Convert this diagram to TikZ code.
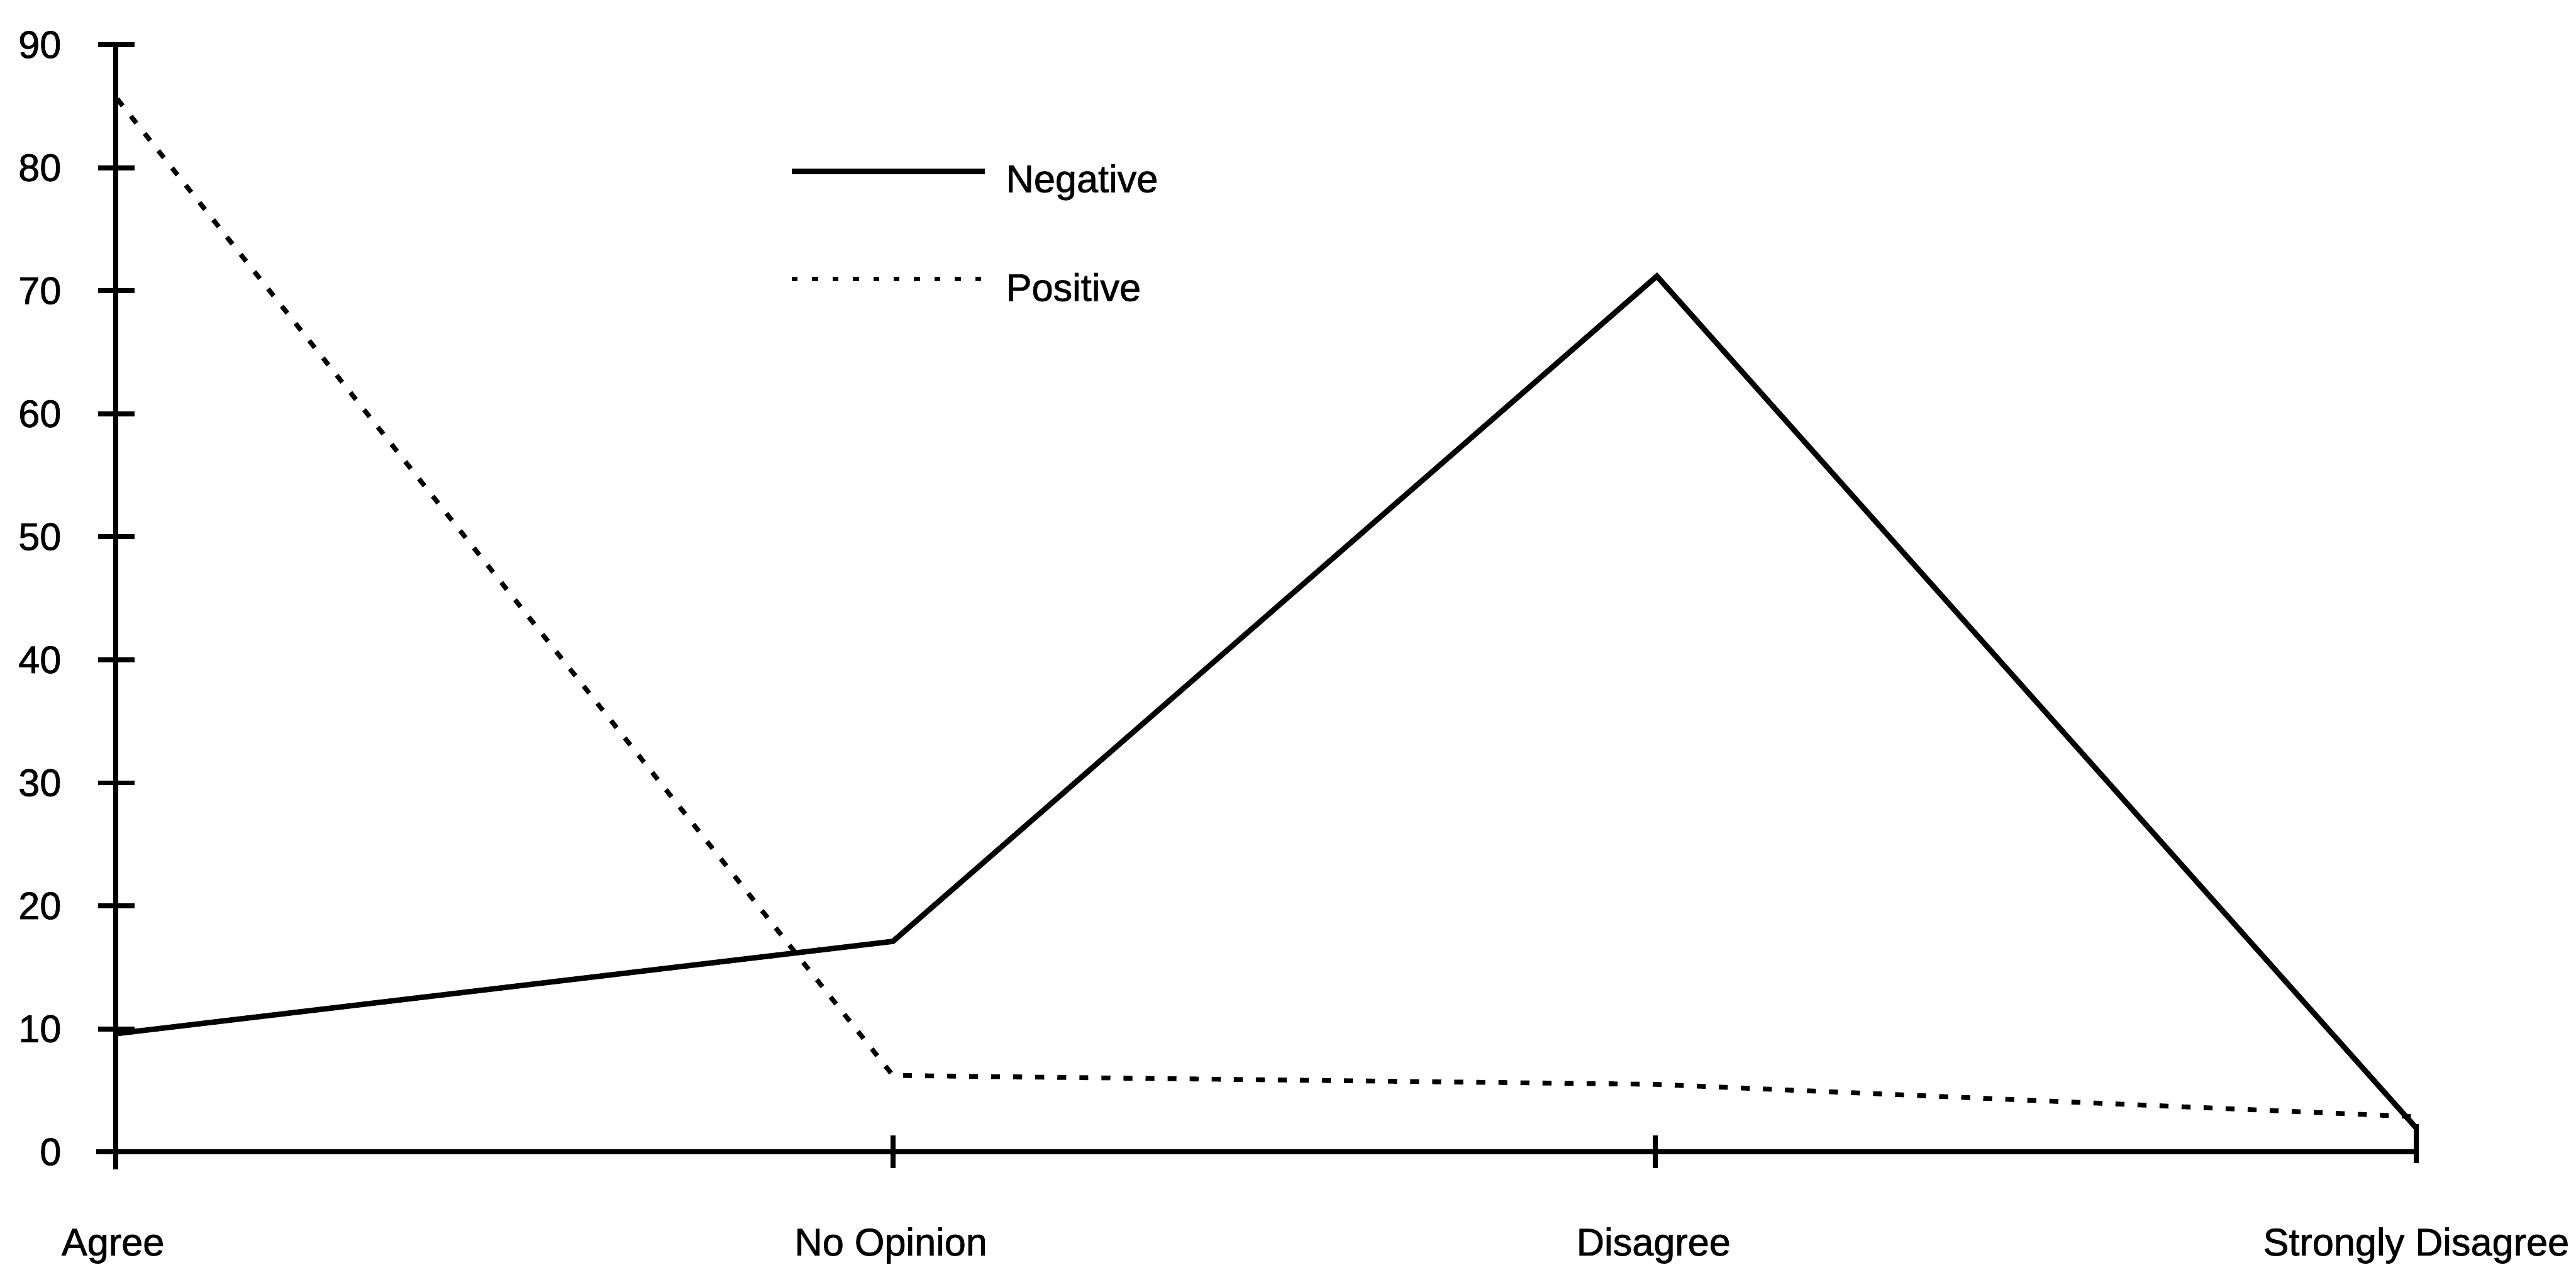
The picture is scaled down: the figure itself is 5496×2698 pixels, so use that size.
\documentclass[tikz,border=0pt]{standalone}
\usepackage{fontspec}
\setmainfont{Liberation Sans}[BoldFont=Liberation Sans,BoldFeatures={FakeBold=1.2}]
\begin{document}
\begin{tikzpicture}[x=0.005cm,y=0.005cm,
  axisline/.style={line width=1.6pt,line cap=butt},
  tickline/.style={line width=1.5pt},
  negline/.style={line width=1.65pt,line join=miter},
  posline/.style={line width=1.45pt,dash pattern=on 2.7pt off 4.0pt},
  ylab/.style={anchor=east,inner sep=0pt,font=\bfseries\fontsize{11.7}{14}\selectfont},
  xlab/.style={anchor=base,inner sep=0pt,font=\bfseries\fontsize{11.7}{14}\selectfont},
  leglab/.style={anchor=base west,inner sep=0pt,font=\bfseries\fontsize{11.7}{14}\selectfont}]
\useasboundingbox (0,0) rectangle (5496,2698);
% axes
\coordinate (o) at (247,241);
\coordinate (ytop) at (247,2603);
\coordinate (ybot) at (247,203);
\coordinate (xleft) at (205,241);
\coordinate (xright) at (5155,241);
\draw[axisline] (ybot) -- (ytop);
\draw[axisline] (xleft) -- (xright);
% y ticks and labels
\foreach \v in {0,10,...,90}{
  \pgfmathsetmacro{\yy}{241+26.24*\v}
  \draw[tickline] (209,\yy) -- (287,\yy);
  \node[ylab] (yl\v) at (132,\yy) {\v};
}
% x ticks
\coordinate (tA) at (247,241);
\coordinate (tN) at (1905,241);
\coordinate (tD) at (3532,241);
\coordinate (tS) at (5155,241);
\draw[tickline] (1905,206) -- (1905,276);
\draw[tickline] (3532,206) -- (3532,276);
\draw[tickline] (5155,217) -- (5155,300);
% x labels
\node[xlab] (lA) at (241,20) {Agree};
\node[xlab] (lN) at (1901,20) {No Opinion};
\node[xlab] (lD) at (3528,20) {Disagree};
\node[xlab] (lS) at (5155,20) {Strongly Disagree};
% data
\coordinate (nA) at (247,493);
\coordinate (nN) at (1905,690);
\coordinate (nD) at (3535,2109);
\coordinate (nS) at (5155,292);
\coordinate (pA) at (250,2487);
\coordinate (pN) at (1905,404);
\coordinate (pD) at (3532,385);
\coordinate (pS) at (5155,316);
\draw[negline] (nA) -- (nN) -- (nD) -- (nS);
\draw[posline] (pA) -- (pN) -- (pD) -- (pS);
% legend
\coordinate (l1a) at (1689,2332);
\coordinate (l1b) at (2101,2332);
\coordinate (l2a) at (1689,2103);
\coordinate (l2b) at (2095,2103);
\draw[negline] (l1a) -- (l1b);
\draw[posline,dash pattern=on 1.8pt off 4.4pt] (l2a) -- (l2b);
\node[leglab] (legN) at (2145,2288) {Negative};
\node[leglab] (legP) at (2145,2056) {Positive};
\end{tikzpicture}
\end{document}
